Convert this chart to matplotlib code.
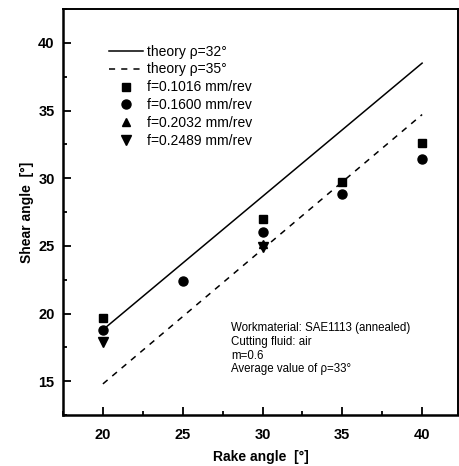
import matplotlib
matplotlib.use("Agg")
import matplotlib.pyplot as plt
from matplotlib.ticker import MultipleLocator

plt.rcParams["font.family"] = ["Liberation Sans", "DejaVu Sans"]

# theory lines (rake angle -> shear angle)
theory_x = [20, 40]
theory_rho32 = [18.8, 38.5]
theory_rho35 = [14.8, 34.7]

# measured shear angles
rake_f1016 = [20, 30, 35, 40]
shear_f1016 = [19.7, 26.95, 29.75, 32.6]
rake_f1600 = [20, 25, 30, 35, 40]
shear_f1600 = [18.8, 22.4, 26.05, 28.8, 31.4]
rake_f2032 = [30]
shear_f2032 = [25.1]
rake_f2489 = [20, 30]
shear_f2489 = [17.9, 24.95]

note_lines = [
    "Workmaterial: SAE1113 (annealed)",
    "Cutting fluid: air",
    "m=0.6",
    "Average value of \u03c1=33\u00b0",
]

fig = plt.figure(figsize=(4.6, 4.66), dpi=100)
ax = fig.add_axes([0.137, 0.1094, 0.8587, 0.8713])

ax.plot(theory_x, theory_rho32, "k-", lw=1.1, label="theory \u03c1=32\u00b0")
ax.plot(theory_x, theory_rho35, "k--", lw=1.1, dashes=(4, 4), label="theory \u03c1=35\u00b0")
ax.plot(rake_f2032, shear_f2032, "k^", ms=5.5, ls="none", label="f=0.2032 mm/rev")
ax.plot(rake_f2489, shear_f2489, "kv", ms=6.5, ls="none", label="f=0.2489 mm/rev")
ax.plot(rake_f1600, shear_f1600, "ko", ms=6.5, ls="none", label="f=0.1600 mm/rev")
ax.plot(rake_f1016, shear_f1016, "ks", ms=5.5, ls="none", label="f=0.1016 mm/rev")

ax.set_xlim(17.5, 42.25)
ax.set_ylim(12.5, 42.5)
ax.xaxis.set_major_locator(MultipleLocator(5))
ax.xaxis.set_minor_locator(MultipleLocator(2.5))
ax.yaxis.set_major_locator(MultipleLocator(5))
ax.yaxis.set_minor_locator(MultipleLocator(2.5))
ax.tick_params(which="both", direction="in", top=False, right=False, width=1.3)
ax.tick_params(which="major", length=6, labelsize=10.5)
ax.tick_params(which="minor", length=3)
ax.tick_params(axis="x", which="major", pad=9)
ax.tick_params(axis="y", which="major", pad=6)
for lab in ax.get_xticklabels() + ax.get_yticklabels():
    lab.set_fontweight("bold")
for side in ["left", "bottom"]:
    ax.spines[side].set_linewidth(1.8)
for side in ["top", "right"]:
    ax.spines[side].set_linewidth(1.4)

ax.set_xlabel("Rake angle  [\u00b0]", fontsize=10, fontweight="bold", labelpad=6)
ax.set_ylabel("Shear angle  [\u00b0]", fontsize=10, fontweight="bold", labelpad=3)

handles, labels = ax.get_legend_handles_labels()
order = [0, 1, 5, 4, 2, 3]
ax.legend(
    [handles[i] for i in order],
    [labels[i] for i in order],
    loc="upper left",
    bbox_to_anchor=(0.103, 0.926),
    frameon=False,
    fontsize=10,
    handlelength=2.4,
    handletextpad=0.3,
    labelspacing=0.28,
    borderaxespad=0,
)

ax.text(0.425, 0.229, "\n".join(note_lines), transform=ax.transAxes,
        fontsize=8.3, va="top", ha="left", linespacing=1.2)

fig.savefig("out.png", dpi=100)
